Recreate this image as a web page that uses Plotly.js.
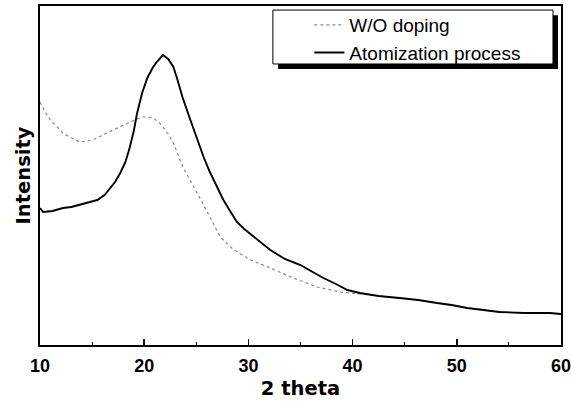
<!DOCTYPE html>
<html>
<head>
<meta charset="utf-8">
<script src="https://cdn.plot.ly/plotly-3.0.1.min.js"></script>
<style>html,body{margin:0;padding:0;background:#fff;} #chart{width:571px;height:402px;}</style>
</head>
<body>
<div id="chart"></div>
<script>
// 2 theta values and intensity (arbitrary units)
var atomX = [10, 10.3, 11.2, 12.2, 13.0, 13.8, 14.6, 15.5, 16.2, 16.7, 17.2, 17.7, 18.2, 18.6, 19.0, 19.3, 19.8, 20.3, 20.8, 21.2, 21.5, 21.8, 22.3, 22.8, 23.2, 23.7, 24.4, 25.1, 25.7, 26.3, 27.0, 27.6, 28.3, 28.9, 29.6, 30.2, 31.0, 32.1, 33.5, 35.0, 36.0, 37.2, 38.4, 39.5, 40.7, 42.5, 44.5, 46.3, 48.1, 49.5, 51.0, 52.5, 54.1, 56.5, 58.9, 60];
var atomY = [137, 133, 134, 137, 138, 140, 142, 145, 150, 156, 163, 172, 183, 197, 214, 231, 252, 267, 277, 283, 286, 290, 286, 278, 265, 247, 226, 205, 188, 173, 158, 145, 133, 123, 116, 111, 104, 95, 86, 80, 74, 67, 61, 55, 52, 49, 47, 45, 42, 40, 37, 35, 33, 32, 32, 31];

var woX = [10, 10.5, 11.0, 11.6, 12.2, 13.0, 13.8, 14.6, 15.5, 16.2, 17.0, 17.8, 18.6, 19.3, 19.9, 20.4, 20.8, 21.3, 21.8, 22.3, 22.8, 23.2, 23.7, 24.4, 25.1, 25.7, 26.3, 27.3, 28.5, 30.2, 32.1, 34.3, 36.6, 38.8, 40.7, 42.5, 44.5, 46.3, 48.1, 49.5, 51.0, 52.5, 54.1, 56.5, 58.9, 60];
var woY = [243, 233, 225, 218, 212, 207, 203, 204, 207, 211, 215, 219, 223, 226, 228, 228, 227, 224, 218, 211, 202, 191, 178, 165, 152, 140, 128, 108, 96, 85, 77, 67, 58, 53, 51, 49, 47, 45, 42, 40, 37, 35, 33, 32, 32, 31];

var xTickVals = [10, 20, 30, 40, 50, 60];
var xTickText = ['10', '20', '30', '40', '50', '60'];

var traces = [
  {x: woX, y: woY, mode: 'lines', name: 'W/O doping', line: {color: '#8a8a8a', width: 1.2, dash: 'dot'}},
  {x: atomX, y: atomY, mode: 'lines', name: 'Atomization process', line: {color: '#000', width: 1.9}}
];

var titleFont = {family: 'DejaVu Sans, sans-serif', size: 19.5, color: '#000', weight: 'bold'};

var layout = {
  width: 571, height: 402,
  margin: {l: 40, r: 10, t: 6, b: 57},
  paper_bgcolor: '#fff', plot_bgcolor: '#fff',
  showlegend: true,
  legend: {x: 0.517, y: 1.0, xanchor: 'left', yanchor: 'top', bgcolor: 'rgba(0,0,0,0)', borderwidth: 0,
           font: {family: 'Liberation Sans, Arial, sans-serif', size: 19, color: '#000'}, tracegroupgap: 0},
  xaxis: {range: [10, 60], tickvals: xTickVals, ticktext: xTickText, ticks: 'inside', ticklen: 6, tickwidth: 1.5, tickcolor: '#000',
          minor: {dtick: 5, tick0: 5, ticks: 'inside', ticklen: 3, tickwidth: 1, tickcolor: '#000'},
          showline: true, linecolor: '#000', linewidth: 2, mirror: true, showgrid: false, zeroline: false,
          ticklabeloverflow: 'allow', ticklabelstandoff: 3,
          tickfont: {family: 'Liberation Sans, Arial, sans-serif', size: 18, color: '#000', weight: 'bold'},
          title: {text: '2 theta', font: titleFont, standoff: 7}},
  yaxis: {range: [0, 339], showticklabels: false, ticks: '', showline: true, linecolor: '#000', linewidth: 2, mirror: true,
          showgrid: false, zeroline: false,
          title: {text: 'Intensity', font: titleFont, standoff: 2}},
  shapes: [
    {type: 'rect', xref: 'paper', yref: 'paper', x0: 0.457, x1: 0.9942, y0: 0.814, y1: 0.973, fillcolor: '#000', line: {width: 0}},
    {type: 'rect', xref: 'paper', yref: 'paper', x0: 0.447, x1: 0.9846, y0: 0.829, y1: 0.988, fillcolor: '#fff', line: {color: '#000', width: 1}}
  ]
};

Plotly.newPlot('chart', traces, layout, {displayModeBar: false, staticPlot: true});
</script>
</body>
</html>
